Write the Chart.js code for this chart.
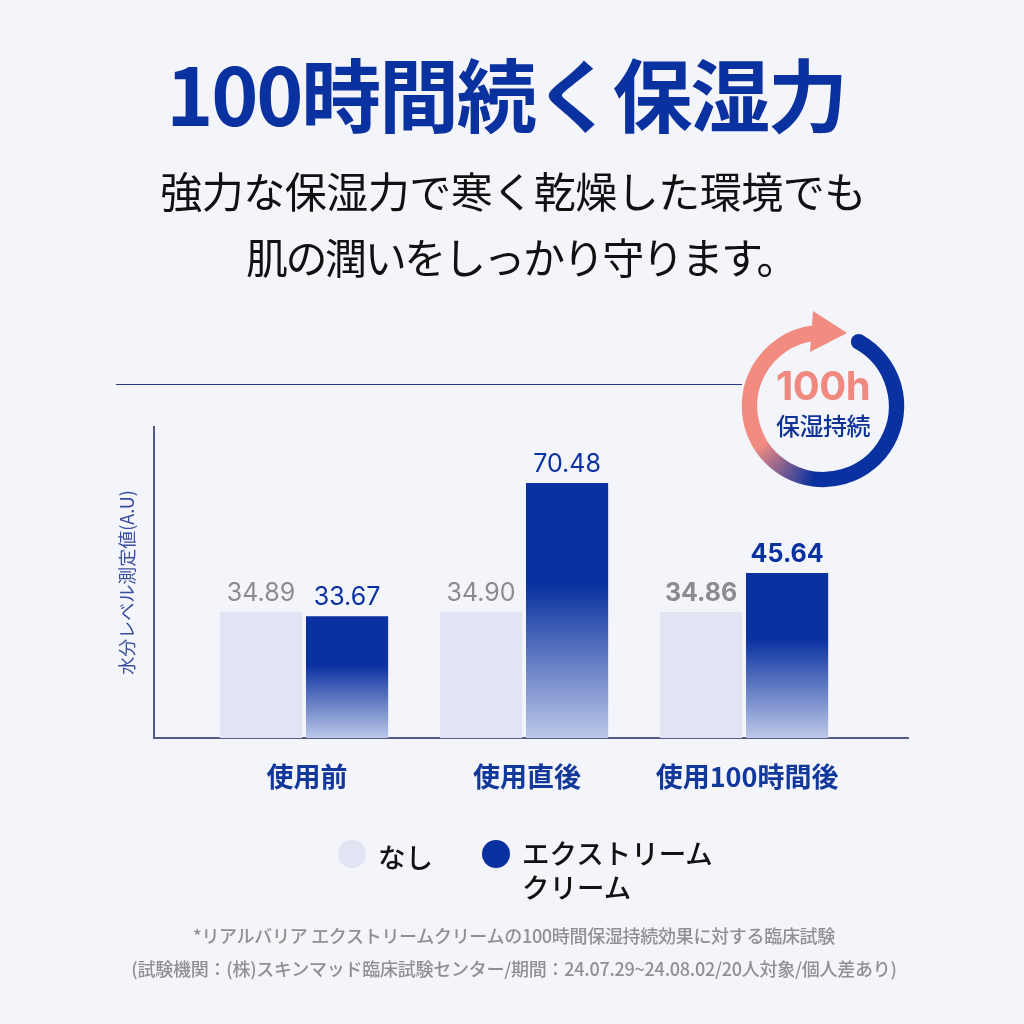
<!DOCTYPE html>
<html lang="ja">
<head>
<meta charset="utf-8">
<script src="https://cdn.jsdelivr.net/npm/chart.js@4/dist/chart.umd.min.js"></script>
<style>
  html, body { margin: 0; padding: 0; background: #f4f4fb; }
  #page { position: relative; width: 1024px; height: 1024px; overflow: hidden; font-family: "Noto Sans CJK JP", sans-serif; }
  #chart { position: absolute; left: 0; top: 0; }
  .txt { position: absolute; left: 0; width: 1024px; text-align: center; white-space: nowrap; }
  #title { left: -6px; top: 31px; font-size: 80px; line-height: 120px; font-weight: 700; color: #0a31a0; letter-spacing: -2.2px; }
  .sub { font-size: 42px; line-height: 60px; color: #111; }
  .note { font-size: 18px; line-height: 26px; color: #8f8f95; font-weight: 500; }
  #rule { position: absolute; left: 116px; top: 384px; width: 626px; height: 1px; background: #2a3a80; }
  .dot { position: absolute; width: 28px; height: 28px; border-radius: 50%; top: 840px; }
  .leg { position: absolute; top: 835px; font-size: 27.5px; line-height: 34px; font-weight: 500; color: #111; white-space: pre; }
  #badge1 { position: absolute; left: 723px; width: 200px; text-align: center; top: 358px; font: 700 40px/56px Inter, sans-serif; color: #f08a80; letter-spacing: -0.5px; }
  #badge2 { position: absolute; left: 723px; width: 200px; text-align: center; top: 406px; font-size: 24px; line-height: 38px; font-weight: 500; color: #0f3496; letter-spacing: -0.5px; }
</style>
</head>
<body>
<div id="page">
  <canvas id="chart" width="1024" height="1024"></canvas>
  <div class="txt" id="title"></div>
  <div class="txt sub" id="sub1" style="left:1px;top:160px;letter-spacing:-0.5px"></div>
  <div class="txt sub" id="sub2" style="left:9px;top:226px;letter-spacing:-2.4px"></div>
  <div id="rule"></div>
  <div id="badge1"></div>
  <div id="badge2"></div>
  <div id="legend"></div>
  <div class="txt note" id="note1" style="left:2px;top:922px;letter-spacing:-0.3px"></div>
  <div class="txt note" id="note2" style="left:2px;top:955px;letter-spacing:-0.25px"></div>
</div>
<script>
// データ
const categories = ['使用前', '使用直後', '使用100時間後'];
const seriesNames = ['なし', 'エクストリーム\nクリーム'];
const noneValues = [34.89, 34.90, 34.86];
const creamValues = [33.67, 70.48, 45.64];
const yAxisTitle = '水分レベル測定値(A.U)';

const titleText = '100時間続く保湿力';
const subLines = ['強力な保湿力で寒く乾燥した環境でも', '肌の潤いをしっかり守ります。'];
const noteLines = [
  '*リアルバリア エクストリームクリームの100時間保湿持続効果に対する臨床試験',
  '(試験機関：(株)スキンマッド臨床試験センター/期間：24.07.29~24.08.02/20人対象/個人差あり)'
];
const badgeLines = ['100h', '保湿持続'];

// 色
const NAVY = '#0a31a0';
const PALE = '#e1e5f3';
const SALMON = '#f28b80';
const AXIS = '#555b86';

document.getElementById('title').innerText = titleText;
document.getElementById('sub1').innerText = subLines[0];
document.getElementById('sub2').innerText = subLines[1];
document.getElementById('note1').innerText = noteLines[0];
document.getElementById('note2').innerText = noteLines[1];
document.getElementById('badge1').innerText = badgeLines[0];
document.getElementById('badge2').innerText = badgeLines[1];

// 凡例
const legendEl = document.getElementById('legend');
[[338, 378, PALE], [482, 522, NAVY]].forEach(([dotX, textX, color], i) => {
  const dot = document.createElement('div');
  dot.className = 'dot';
  dot.style.left = dotX + 'px';
  dot.style.background = color;
  legendEl.appendChild(dot);
  const label = document.createElement('div');
  label.className = 'leg';
  label.style.left = textX + 'px';
  label.textContent = seriesNames[i];
  if (i === 0) label.style.top = '839px';
  legendEl.appendChild(label);
});

// バーのグラデーション
function creamFill(ctx) {
  const { chart, dataIndex } = ctx;
  const y = chart.scales.y;
  if (!chart.chartArea || !y) return NAVY;
  const top = y.getPixelForValue(creamValues[dataIndex]);
  if (!isFinite(top)) return NAVY;
  const g = chart.ctx.createLinearGradient(0, top, 0, y.bottom);
  g.addColorStop(0, NAVY);
  g.addColorStop(0.4, NAVY);
  g.addColorStop(1, '#bcc8e8');
  return g;
}

// バー上の数値
const valueLabels = {
  id: 'valueLabels',
  afterDatasetsDraw(chart) {
    const c = chart.ctx;
    chart.data.datasets.forEach((ds, di) => {
      chart.getDatasetMeta(di).data.forEach((bar, i) => {
        c.save();
        c.font = (i === 2 ? '700 ' : '400 ') + '25px Inter, sans-serif';
        c.fillStyle = di === 0 ? '#8c8c90' : NAVY;
        c.textAlign = 'center';
        c.textBaseline = 'alphabetic';
        c.fillText(ds.data[i].y.toFixed(2), bar.x, bar.y - 11);
        c.restore();
      });
    });
  }
};

// 100h バッジのリング
const badgeRing = {
  id: 'badgeRing',
  afterDraw(chart) {
    const c = chart.ctx;
    const cx = 823, cy = 406, r = 73.5;
    const rad = d => d * Math.PI / 180;
    c.save();
    const g = c.createConicGradient(rad(-90), cx, cy);
    g.addColorStop(0, NAVY);
    g.addColorStop(0.52, NAVY);
    g.addColorStop(0.66, SALMON);
    g.addColorStop(1, SALMON);
    c.lineWidth = 15.5;
    c.strokeStyle = g;
    c.beginPath();
    c.arc(cx, cy, r, rad(-61), rad(-97));
    c.stroke();
    // 始点の丸
    c.fillStyle = NAVY;
    c.beginPath();
    c.arc(cx + r * Math.cos(rad(-61)), cy + r * Math.sin(rad(-61)), 7.75, 0, Math.PI * 2);
    c.fill();
    // 矢印
    c.fillStyle = SALMON;
    c.beginPath();
    c.moveTo(847, 333);
    c.lineTo(813, 311);
    c.lineTo(810, 352);
    c.closePath();
    c.fill();
    c.restore();
  }
};

new Chart(document.getElementById('chart'), {
  type: 'bar',
  data: {
    datasets: [
      { label: seriesNames[0], data: noneValues.map((v, i) => ({ x: i, y: v })), backgroundColor: PALE },
      { label: seriesNames[1], data: creamValues.map((v, i) => ({ x: i, y: v })), backgroundColor: creamFill }
    ]
  },
  options: {
    responsive: false,
    animation: false,
    categoryPercentage: 0.782,
    barPercentage: 0.955,
    layout: { padding: { left: 116, right: 116, top: 427, bottom: 0 } },
    plugins: { legend: { display: false }, tooltip: { enabled: false } },
    scales: {
      x: {
        type: 'linear',
        offset: false,
        min: -0.682,
        max: 2.745,
        afterFit: s => { s.height = 286; },
        grid: { display: false },
        border: { color: AXIS, width: 2 },
        ticks: {
          stepSize: 1,
          includeBounds: false,
          maxRotation: 0,
          padding: 15,
          labelOffset: 3,
          color: '#12389c',
          font: { family: '"Noto Sans CJK JP"', size: 27, weight: '700' },
          callback: v => categories[v]
        }
      },
      y: {
        min: 0,
        max: 86,
        afterFit: s => { s.width = 38; },
        grid: { display: false },
        border: { color: AXIS, width: 2 },
        ticks: { display: false },
        title: {
          display: true,
          text: yAxisTitle,
          color: '#3a4f9e',
          padding: 0,
          font: { family: '"Noto Sans CJK JP"', size: 18, weight: '400' }
        }
      }
    }
  },
  plugins: [valueLabels, badgeRing]
});
</script>
</body>
</html>
